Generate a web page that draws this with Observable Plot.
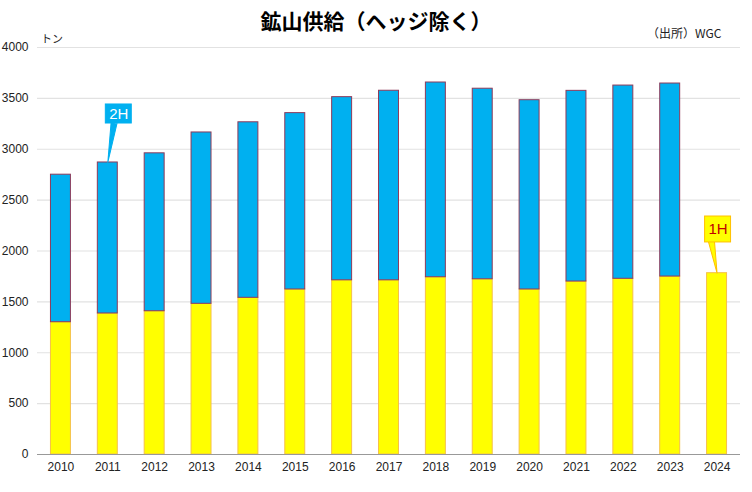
<!DOCTYPE html>
<html>
<head>
<meta charset="utf-8">
<script src="https://cdn.jsdelivr.net/npm/d3@7"></script>
<script src="https://cdn.jsdelivr.net/npm/@observablehq/plot@0.6"></script>
<style>
  body { margin: 0; background: #fff; }
  #wrap { position: relative; width: 752px; height: 492px; font-family: "Liberation Sans", Arial, sans-serif; }
  #title { position: absolute; left: 0; width: 752px; top: 6px; text-align: center; font-family: "Noto Sans CJK JP", sans-serif; font-weight: bold; font-size: 21px; color: #000; line-height: 28px; }
  #source { position: absolute; left: 647px; top: 24px; font-family: "Noto Sans CJK JP", sans-serif; font-size: 12px; color: #222; }
  #unit { position: absolute; left: 41px; top: 30px; font-family: "Noto Sans CJK JP", sans-serif; font-size: 11px; color: #222; }
</style>
</head>
<body>
<div id="wrap">
  <div id="chart"></div>
  <div id="title">鉱山供給（ヘッジ除く）</div>
  <div id="source">（出所）WGC</div>
  <div id="unit">トン</div>
</div>
<script>
const years = ["2010","2011","2012","2013","2014","2015","2016","2017","2018","2019","2020","2021","2022","2023","2024"];
const firstHalf  = [1300,1386,1408,1481,1540,1622,1712,1712,1742,1722,1622,1700,1727,1749,1782];
const secondHalf = [1450,1484,1552,1684,1725,1733,1800,1863,1914,1873,1860,1874,1899,1897,null];
const seriesNames = ["1H","2H"];
const yTicks = [0,500,1000,1500,2000,2500,3000,3500,4000];

const rows = [];
years.forEach((yr, i) => {
  rows.push({year: yr, series: "1H", value: firstHalf[i]});
  if (secondHalf[i] != null) rows.push({year: yr, series: "2H", value: secondHalf[i]});
});
const totals = years.map((yr, i) => ({year: yr, total: firstHalf[i] + (secondHalf[i] || 0)}));

// callouts: label, year it points to, box extent (data units)
const callouts = [
  {year: "2011", label: "2H", top: totals[1].total, y1: 3253, y2: 3440, fill: "#00B0F0", stroke: "#00B0F0", text: "#ffffff", dx: 11, rotate: 189, len: 40},
  {year: "2024", label: "1H", top: totals[14].total, y1: 2084, y2: 2339, fill: "#FFFF00", stroke: "#FFC000", text: "#C00000", dx: 1, rotate: 170, len: 32}
];

const fills = {"1H": "#FFFF00", "2H": "#00B0F0"};
const strokes = {"1H": "#F5C04A", "2H": "#8E3A5A"};

function shiftX(selector) {
  return function(index, scales, values, dims, ctx, next) {
    const g = next(index, scales, values, dims, ctx);
    d3.select(g).selectAll(selector).each(function(_, j) {
      const t = d3.select(this);
      const prev = t.attr("transform") || "";
      t.attr("transform", `translate(${callouts[index[j]].dx},0) ${prev}`);
    });
    return g;
  };
}

const chart = Plot.plot({
  width: 752,
  height: 492,
  marginTop: 47,
  marginBottom: 38,
  marginLeft: 37,
  marginRight: 12,
  style: {fontFamily: "Liberation Sans, Arial, sans-serif", fontSize: "12px", color: "#222", background: "#fff"},
  x: {domain: years, paddingInner: 0.574, paddingOuter: 0.287, round: false, label: null, tickSize: 0, tickPadding: 8},
  y: {domain: [0, 4000], ticks: yTicks, label: null, tickSize: 0, tickPadding: 9, tickFormat: d => String(d)},
  length: {type: "identity"},
  marks: [
    Plot.gridY(yTicks.filter(d => d > 0), {stroke: "#e2e2e2", strokeOpacity: 1, strokeWidth: 1.2}),
    Plot.barY(rows, {
      x: "year", y: "value", order: seriesNames,
      z: "series",
      fill: d => fills[d.series],
      stroke: d => strokes[d.series],
      strokeWidth: 1
    }),
    Plot.ruleY([0], {stroke: "#999", strokeWidth: 1.2}),
    Plot.vector(callouts, {
      x: "year", y: "top", shape: "spike", anchor: "end",
      length: d => d.len, rotate: d => d.rotate, r: 3,
      fill: d => d.fill, stroke: d => d.stroke, strokeWidth: 1
    }),
    Plot.rect(callouts, {
      x: "year", y1: "y1", y2: "y2",
      fill: d => d.fill, stroke: d => d.stroke, strokeWidth: 1,
      insetLeft: -3, insetRight: -3,
      render: shiftX("rect")
    }),
    Plot.text(callouts, {
      x: "year", y: d => (d.y1 + d.y2) / 2, text: "label",
      fill: d => d.text, fontSize: 15,
      render: shiftX("text")
    })
  ]
});
document.getElementById("chart").appendChild(chart);
</script>
</body>
</html>
